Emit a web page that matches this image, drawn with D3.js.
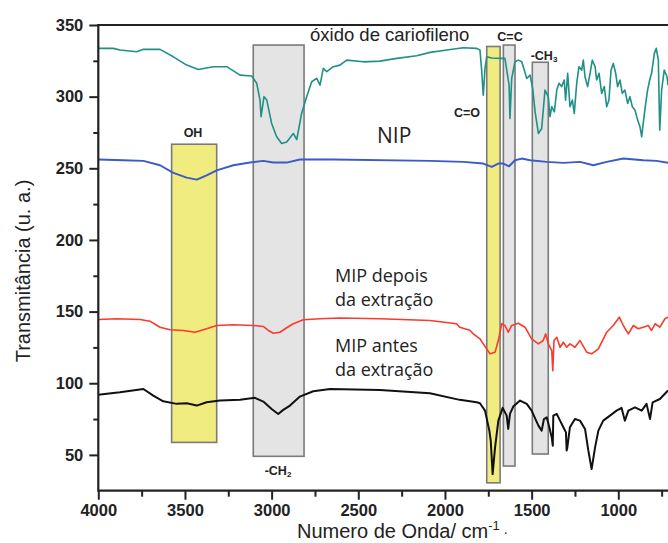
<!DOCTYPE html>
<html><head><meta charset="utf-8">
<script src="https://cdn.jsdelivr.net/npm/d3@7"></script>
<style>body{margin:0;background:#fff}svg{display:block}</style>
</head><body>
<svg id="c" width="668" height="543"></svg>
<script>
// ---- data (wavenumber cm-1, transmittance u.a.) ----
const oxido = [[4000,333.7],[3913,333.7],[3875,332.5],[3778,331.3],[3740,333],[3644,333],[3567,327.8],[3490,322],[3423,319],[3337,320.9],[3259,320.9],[3182,315],[3115,314.4],[3086,309.3],[3067,297.6],[3061,286],[3044,300],[3028,297.6],[3000,281.3],[2971,272],[2942,267.3],[2913,268.4],[2875,274.3],[2855,270.1],[2827,288.3],[2798,300],[2769,310.4],[2740,312.7],[2721,308],[2702,319.7],[2682,317.4],[2644,320.9],[2606,322],[2567,325.5],[2471,324.3],[2375,324.8],[2278,326.7],[2163,328.5],[2086,330.9],[1990,332.5],[1894,334.1],[1817,333.7],[1798,332.5],[1788,318],[1779,301],[1769,319.7],[1759,327.8],[1730,327],[1682,326.7],[1654,326.7],[1630,308],[1625,284.8],[1615,312.7],[1596,324.4],[1577,325.5],[1557,324.4],[1528,312.7],[1509,315],[1494,305.8],[1480,289.4],[1461,274.3],[1442,277.8],[1423,304.6],[1404,300],[1394,286],[1384,293],[1369,289.4],[1355,304.6],[1342,309.3],[1327,307],[1312,311.6],[1304,297.6],[1292,316.3],[1279,293],[1265,297.6],[1254,288.3],[1240,309.3],[1227,320.9],[1211,318.5],[1202,325.5],[1192,313.9],[1177,307],[1163,316.3],[1150,325.5],[1134,320.9],[1125,311.6],[1111,316.3],[1096,302.3],[1081,307],[1067,293],[1054,297.6],[1042,318.5],[1029,323.2],[1015,316.3],[1004,307],[990,311.6],[977,302.3],[962,304.6],[946,295.3],[933,300],[919,293],[904,290.7],[888,283.6],[875,279],[865,272],[854,283.6],[842,295.3],[831,304.6],[819,311.6],[808,316.3],[792,330.2],[781,333.7],[769,325.5],[761,276.6],[750,304.6],[735,318.5],[719,313.9],[713,308]];
const nip = [[4000,256.1],[3856,255.6],[3740,255.2],[3644,252.1],[3567,246.8],[3490,243.5],[3432,242.1],[3375,245.1],[3317,248.6],[3221,252.1],[3125,254],[3048,255.2],[2990,254],[2913,254],[2837,256.1],[2644,256.1],[2087,255.2],[1894,254.5],[1779,253.3],[1730,251],[1692,253.3],[1663,253.3],[1630,251.4],[1596,255.6],[1557,256.8],[1509,255.6],[1413,254.5],[1317,253.8],[1221,254.5],[1144,252.1],[1067,254.5],[971,256.8],[856,255.6],[779,255.2],[713,253.8]];
const mipDepois = [[4000,144.5],[3894,145],[3759,144.5],[3702,143.3],[3644,139.1],[3586,137.3],[3510,136.8],[3442,135.6],[3375,138],[3317,140.3],[3221,140.8],[3106,140.3],[3048,139.6],[3019,136.8],[2990,134.9],[2952,135.6],[2913,138.7],[2875,141.5],[2817,144.3],[2721,145],[2606,145.5],[2375,145],[2087,143.8],[1933,141.5],[1915,139.1],[1856,137],[1837,134.5],[1798,131],[1779,127.5],[1740,120.5],[1711,121.7],[1692,129.8],[1673,141.5],[1654,140.3],[1635,135.6],[1615,140.3],[1577,141.9],[1538,139.1],[1500,131],[1461,127.5],[1433,129.8],[1419,134.5],[1404,127.5],[1384,122.8],[1378,108.8],[1371,129.8],[1355,132.1],[1336,125.1],[1317,128.6],[1298,125.1],[1279,127.5],[1250,125.1],[1221,129.8],[1182,121.7],[1154,120.5],[1115,124],[1067,135.6],[1029,140.3],[994,146.1],[971,140.3],[942,134.5],[913,140.3],[885,138],[856,139.1],[827,140.3],[808,136.8],[788,141.5],[760,139.1],[731,145],[713,146.1]];
const mipAntes = [[4000,92],[3875,93.7],[3740,96],[3683,91.4],[3625,87.4],[3548,85.6],[3490,86],[3432,84.4],[3375,86.7],[3298,87.9],[3182,88.4],[3096,89.8],[3048,87.2],[3000,82],[2962,78.5],[2933,81.4],[2894,84.4],[2837,90.7],[2760,94.4],[2663,96],[2375,95.3],[2087,93],[1915,88.4],[1817,86.7],[1798,86],[1769,80.9],[1744,66.9],[1736,60],[1725,36.6],[1711,55.2],[1692,73.9],[1667,82.8],[1644,77.4],[1635,68.1],[1625,78.6],[1606,83.7],[1567,87.9],[1528,85.6],[1500,80.9],[1461,70.4],[1442,66.9],[1429,75],[1413,76.2],[1398,69.3],[1384,62.2],[1378,56.4],[1375,77.4],[1355,78.6],[1336,73.9],[1317,69.3],[1302,65.7],[1298,53.1],[1294,55.2],[1279,69.3],[1250,75],[1221,73.9],[1192,68.1],[1173,53.1],[1154,40.1],[1134,55.2],[1115,66.9],[1087,73.9],[1048,77.4],[1010,80.9],[981,82.8],[962,73.9],[942,80.9],[904,83.2],[865,80.9],[837,85.6],[817,75],[802,86.7],[760,89],[713,94.9]];

const xTicks = [4000,3500,3000,2500,2000,1500,1000];
const xMinor = [3750,3250,2750,2250,1750,1250,750];
const yTicks = [50,100,150,200,250,300,350];
const yMinor = [75,125,175,225,275,325];

// absorption bands: [wn high, wn low, T low, T high, type]
const bands = [
  [3577,3317,58.7,266.8,"y"],
  [3106,2813,49,336,"g"],
  [1759,1682,30.5,335,"y"],
  [1663,1596,42.2,336,"g"],
  [1496,1404,50.6,324,"g"]
];

// ---- drawing ----
const svg = d3.select("#c");
const x = d3.scaleLinear().domain([4000,1000]).range([98.3,618.3]);
const y = d3.scaleLinear().domain([25,350]).range([490.7,25]);

svg.append("defs").append("clipPath").attr("id","pc")
  .append("rect").attr("x",98).attr("y",20).attr("width",580).attr("height",472);

const bandG = svg.append("g");
bandG.selectAll("rect").data(bands).join("rect")
  .attr("x",d=>x(d[0])).attr("width",d=>x(d[1])-x(d[0]))
  .attr("y",d=>y(d[3])).attr("height",d=>y(d[2])-y(d[3]))
  .attr("fill",d=>d[4]==="y"?"#f0ec80":"#e4e4e4")
  .attr("stroke","#7a7a7a").attr("stroke-width",1.6);

const line = d3.line().x(d=>x(d[0])).y(d=>y(d[1]));
const series = [[oxido,"#1f9085",1.6],[nip,"#3b5bc6",1.9],[mipDepois,"#fa3a2a",1.6],[mipAntes,"#111",2]];
const lg = svg.append("g").attr("clip-path","url(#pc)");
series.forEach(s=>{
  lg.append("path").datum(s[0]).attr("d",line).attr("fill","none")
    .attr("stroke",s[1]).attr("stroke-width",s[2]).attr("stroke-linejoin","round");
});

// axes
const tickFont = "bold 16.5px 'Liberation Sans', Arial, sans-serif";
const gx = svg.append("g").attr("transform","translate(0,490.7)");
gx.call(d3.axisBottom(x).tickValues(xTicks).tickSize(9).tickSizeOuter(0).tickPadding(5).tickFormat(d3.format("d")));
const gxm = svg.append("g").attr("transform","translate(0,490.7)");
gxm.call(d3.axisBottom(x).tickValues(xMinor).tickSize(6).tickSizeOuter(0).tickFormat(""));
gxm.select(".domain").remove();
const gy = svg.append("g").attr("transform","translate(98.3,0)");
gy.call(d3.axisLeft(y).tickValues(yTicks).tickSize(9).tickSizeOuter(0).tickPadding(6).tickFormat(d3.format("d")));
const gym = svg.append("g").attr("transform","translate(98.3,0)");
gym.call(d3.axisLeft(y).tickValues(yMinor).tickSize(5).tickSizeOuter(0).tickFormat(""));
gym.select(".domain").remove();
[gx,gy,gxm,gym].forEach(g=>{
  g.selectAll(".domain").attr("stroke","#222").attr("stroke-width",2.2);
  g.selectAll(".tick line").attr("stroke","#222").attr("stroke-width",2);
  g.selectAll(".tick text").attr("fill","#222").style("font",tickFont);
});
gx.select(".domain").attr("d","M98.3,0H668");
gy.select(".domain").attr("d","M0,24.5V491.7");
svg.append("line").attr("x1",97.2).attr("x2",668).attr("y1",25).attr("y2",25)
  .attr("stroke","#222").attr("stroke-width",2.2);

// titles
svg.append("text").attr("transform","translate(30,271) rotate(-90)")
  .attr("text-anchor","middle").attr("fill","#222")
  .style("font","20px 'Liberation Sans', Arial, sans-serif")
  .text("Transmitância (u. a.)");
const xt = svg.append("text").attr("x",297).attr("y",537.5).attr("fill","#222")
  .style("font","20px 'Liberation Sans', Arial, sans-serif");
xt.append("tspan").text("Numero de Onda/ cm");
xt.append("tspan").attr("dy",-8).style("font-size","13px").text("-1");
xt.append("tspan").attr("dy",4).style("font-size","14px").text(" .");

// annotations
const small = "bold 12.5px 'Liberation Sans', Arial, sans-serif";
function lab(txt,sub,cx,by){
  const t = svg.append("text").attr("x",cx).attr("y",by).attr("text-anchor","middle")
    .attr("fill","#222").style("font",small);
  t.append("tspan").text(txt);
  if(sub) t.append("tspan").attr("dy",2).style("font-size","8px").text(sub);
}
lab("OH",null,193,137);
lab("-CH","2",278,475);
lab("C=O",null,467,117);
lab("C=C",null,510,41);
lab("-CH","3",544,60);

svg.append("text").attr("x",310).attr("y",41).attr("fill","#222")
  .style("font","18.5px 'Liberation Sans', Arial, sans-serif").text("óxido de cariofileno");
svg.append("text").attr("x",377).attr("y",143).attr("fill","#222")
  .style("font","21px 'Open Sans', sans-serif").text("NIP");
const mf = "18px 'Open Sans', sans-serif";
[["MIP depois",282],["da extração",306],["MIP antes",352],["da extração",376]].forEach(d=>{
  svg.append("text").attr("x",335).attr("y",d[1]).attr("fill","#222").style("font",mf).text(d[0]);
});
</script>
</body></html>
